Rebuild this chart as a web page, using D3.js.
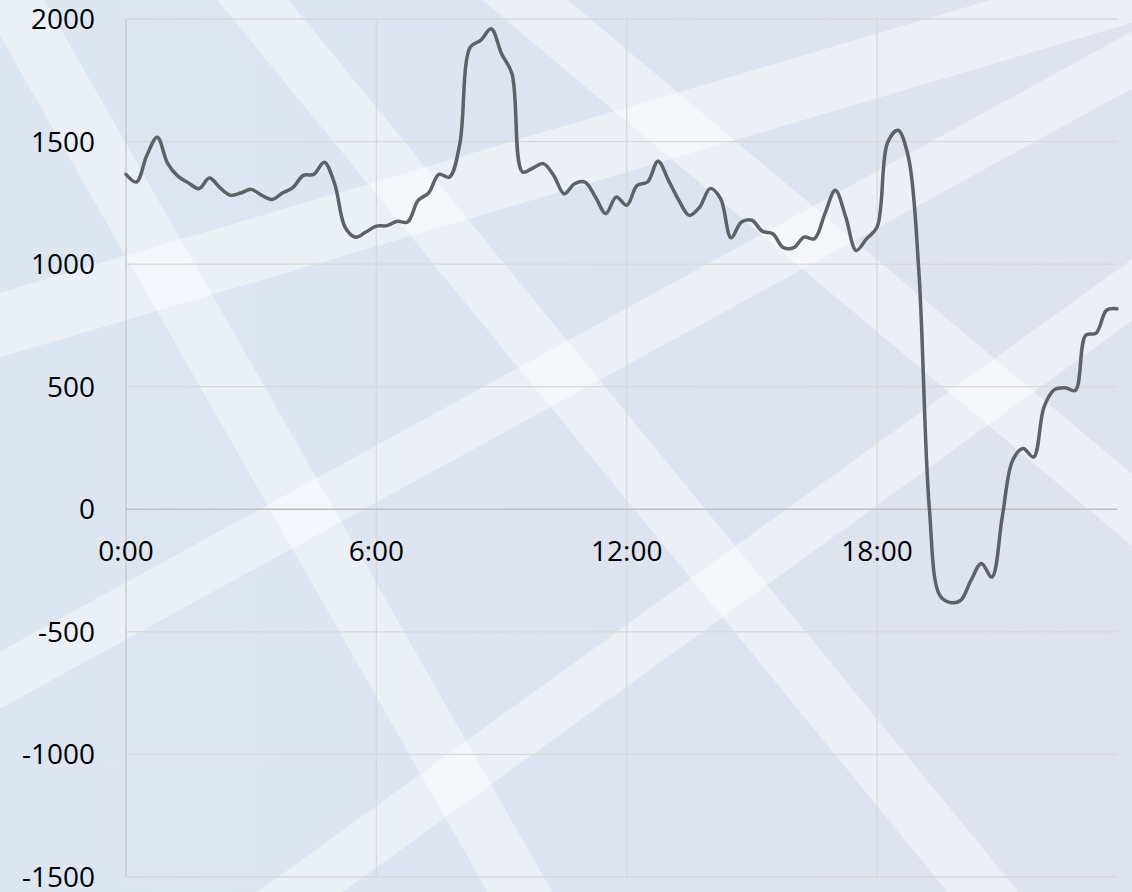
<!DOCTYPE html>
<html>
<head>
<meta charset="utf-8">
<script src="https://cdn.jsdelivr.net/npm/d3@7/dist/d3.min.js"></script>
<style>
  html, body { margin: 0; padding: 0; background: #dfe5ef; }
  svg { display: block; }
</style>
</head>
<body>
<svg id="chart" width="1132" height="892"></svg>
<script>
// ---- data (15-minute intervals, 0:00 .. 23:45) ----
const values = [
  1366, 1335, 1444, 1518, 1410, 1358, 1331, 1308, 1351, 1312, 1281, 1290,
  1305, 1281, 1264, 1290, 1312, 1362, 1366, 1416, 1328, 1151, 1110, 1131,
  1155, 1157, 1175, 1172, 1260, 1290, 1366, 1355, 1491, 1885, 1913, 1960,
  1858, 1777, 1376, 1392, 1410, 1362, 1287, 1328, 1335, 1274, 1206, 1274,
  1240, 1321, 1335, 1420, 1342, 1260, 1199, 1233, 1308, 1267, 1108, 1172,
  1179, 1134, 1124, 1068, 1067, 1110, 1104, 1206, 1301, 1192, 1056, 1104,
  1151, 1495, 1546, 1437, 975, 10, -350, -380, -372, -290, -221, -276,
  -31, 200, 248, 213, 417, 488, 496, 485, 710, 719, 812, 818
];
const times = values.map((_, i) => {
  const h = Math.floor(i / 4), m = (i % 4) * 15;
  return h + ":" + String(m).padStart(2, "0");
});
const xTickIdx = [0, 24, 48, 72];
const xTickLabels = ["0:00", "6:00", "12:00", "18:00"];
const yTicks = [-1500, -1000, -500, 0, 500, 1000, 1500, 2000];

// ---- layout ----
const W = 1132, H = 892;
const plot = { left: 126, right: 1117, top: 19, bottom: 877 };
const svg = d3.select("#chart");

// background
const defs = svg.append("defs");
const grad = defs.append("linearGradient").attr("id", "bg").attr("x1", 0).attr("x2", 1).attr("y1", 0).attr("y2", 0);
grad.append("stop").attr("offset", "0%").attr("stop-color", "#dce6f1");
grad.append("stop").attr("offset", "100%").attr("stop-color", "#dfe3ee");
svg.append("rect").attr("width", W).attr("height", H).attr("fill", "url(#bg)");

// decorative light bands
const bands = [
  { x1: 12, y1: 0, x2: 520, y2: 892, w: 56 },
  { x1: 253, y1: 0, x2: 983, y2: 892, w: 55 },
  { x1: 525, y1: 0, x2: 1132, y2: 510, w: 55 },
  { x1: 0, y1: 325, x2: 1100, y2: 0, w: 62 },
  { x1: 0, y1: 680, x2: 1132, y2: 60, w: 50 },
  { x1: 300, y1: 892, x2: 1132, y2: 290, w: 50 }
];
const bg = svg.append("g");
bands.forEach(b => {
  const dx = b.x2 - b.x1, dy = b.y2 - b.y1;
  const ext = 2;
  bg.append("line")
    .attr("x1", b.x1 - dx * ext).attr("y1", b.y1 - dy * ext)
    .attr("x2", b.x2 + dx * ext).attr("y2", b.y2 + dy * ext)
    .attr("stroke", "#ffffff").attr("stroke-opacity", 0.42)
    .attr("stroke-width", b.w);
});

// scales
const x = d3.scaleLinear().domain([0, values.length - 1]).range([plot.left, plot.right]);
const y = d3.scaleLinear().domain([-1500, 2000]).range([plot.bottom, plot.top]);

const fontFam = "'Open Sans', 'Noto Sans', sans-serif";

// horizontal gridlines
svg.append("g").selectAll("line").data(yTicks.filter(d => d !== 0)).join("line")
  .attr("x1", plot.left).attr("x2", plot.right)
  .attr("y1", d => y(d)).attr("y2", d => y(d))
  .attr("stroke", "#d9d9d9").attr("stroke-width", 1.3);

// vertical gridlines
svg.append("g").selectAll("line").data(xTickIdx.slice(1)).join("line")
  .attr("x1", d => x(d)).attr("x2", d => x(d))
  .attr("y1", plot.top).attr("y2", plot.bottom)
  .attr("stroke", "#d9d9d9").attr("stroke-width", 1.3);

// axes lines
svg.append("line").attr("x1", plot.left).attr("x2", plot.left)
  .attr("y1", plot.top).attr("y2", plot.bottom)
  .attr("stroke", "#c6c6c6").attr("stroke-width", 1.3);
svg.append("line").attr("x1", plot.left).attr("x2", plot.right)
  .attr("y1", y(0)).attr("y2", y(0))
  .attr("stroke", "#bfbfbf").attr("stroke-width", 1.5);

// y labels
svg.append("g").selectAll("text").data(yTicks).join("text")
  .attr("x", 95).attr("y", d => y(d) + 10)
  .attr("text-anchor", "end")
  .attr("font-family", fontFam).attr("font-size", 28).attr("fill", "#000")
  .text(d => d);

// x labels
svg.append("g").selectAll("text").data(xTickIdx).join("text")
  .attr("x", d => x(d)).attr("y", y(0) + 52)
  .attr("text-anchor", "middle")
  .attr("font-family", fontFam).attr("font-size", 28).attr("fill", "#000")
  .text((d, i) => xTickLabels[i]);

// line
const line = d3.line()
  .x((d, i) => x(i))
  .y(d => y(d))
  .curve(d3.curveCatmullRom.alpha(0.5));
svg.append("path").datum(values)
  .attr("d", line)
  .attr("fill", "none")
  .attr("stroke", "#5d6267")
  .attr("stroke-width", 3.5)
  .attr("stroke-linejoin", "round")
  .attr("stroke-linecap", "round");
</script>
</body>
</html>
